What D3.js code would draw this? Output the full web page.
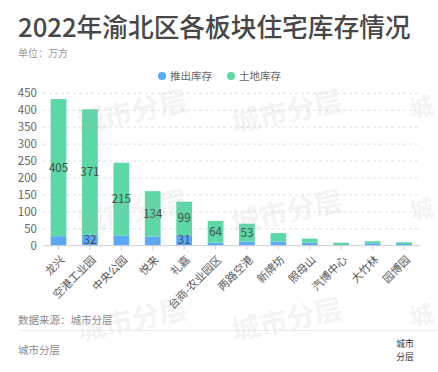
<!DOCTYPE html>
<html>
<head>
<meta charset="utf-8">
<script src="https://cdn.jsdelivr.net/npm/d3@7/dist/d3.min.js"></script>
<style>
html,body{margin:0;padding:0;background:#fff;}
svg{display:block;font-family:"Noto Sans CJK SC","Noto Sans",sans-serif;}
</style>
</head>
<body>
<svg id="chart" width="438" height="372"></svg>
<script>
const categories = ["龙兴","空港工业园","中央公园","悦来","礼嘉","台商-农业园区","两路空港","新牌坊","照母山","汽博中心","大竹林","园博园"];
const launched = [28, 32, 30, 27, 31, 9, 12, 12, 9, 1, 7, 5];      // 推出库存
const land =     [405, 371, 215, 134, 99, 64, 53, 25, 12, 8, 6, 5]; // 土地库存
const launchedLabels = [null, 32, null, null, 31, null, null, null, null, null, null, null];
const landLabels = [405, 371, 215, 134, 99, 64, 53, null, null, null, null, null];
const yTicks = [0, 50, 100, 150, 200, 250, 300, 350, 400, 450];
const seriesNames = ["推出库存", "土地库存"];
const colors = ["#5aa8f6", "#5cd8a6"];

const svg = d3.select("#chart");

// Title
svg.append("text").attr("x", 18).attr("y", 37)
  .attr("font-size", 25.7).attr("font-weight", 500).attr("fill", "#474747")
  .text("2022年渝北区各板块住宅库存情况");
svg.append("text").attr("x", 18).attr("y", 57)
  .attr("font-size", 10).attr("fill", "#9a9a9a").text("单位：万方");

// Legend
const legendX = [162, 231];
seriesNames.forEach((n, i) => {
  svg.append("circle").attr("cx", legendX[i]).attr("cy", 76).attr("r", 4).attr("fill", colors[i]);
  svg.append("text").attr("x", legendX[i] + 8).attr("y", 80)
    .attr("font-size", 10.5).attr("fill", "#666").text(n);
});

const x = d3.scaleBand().domain(categories).range([42.8, 419.7]).paddingInner(0.5).paddingOuter(0.25);
const y = d3.scaleLinear().domain([0, 450]).range([245.7, 93.3]);

// Grid
const g = svg.append("g");
g.selectAll("line.grid").data(yTicks.filter(d => d > 0)).enter().append("line")
  .attr("x1", 43).attr("x2", 420).attr("y1", d => y(d)).attr("y2", d => y(d))
  .attr("stroke", "#e2e2e2").attr("stroke-dasharray", "3,3").attr("stroke-width", 1);

// Y labels
g.selectAll("text.yl").data(yTicks).enter().append("text")
  .attr("x", 37).attr("y", d => y(d)).attr("dy", "0.35em").attr("text-anchor", "end")
  .attr("font-size", 11.5).attr("fill", "#666").text(d => d);

// Bars
const bars = g.append("g");
categories.forEach((c, i) => {
  const x0 = x(c), w = x.bandwidth();
  bars.append("rect").attr("x", x0).attr("width", w)
    .attr("y", y(launched[i])).attr("height", y(0) - y(launched[i])).attr("fill", colors[0]);
  bars.append("rect").attr("x", x0).attr("width", w)
    .attr("y", y(launched[i] + land[i])).attr("height", y(launched[i]) - y(launched[i] + land[i])).attr("fill", colors[1]);
  if (landLabels[i] != null) {
    bars.append("text").attr("x", x0 + w / 2).attr("y", y(launched[i] + land[i] / 2)).attr("dy", "0.35em")
      .attr("text-anchor", "middle").attr("font-size", 11.5).attr("fill", "#3f4a45").text(landLabels[i]);
  }
  if (launchedLabels[i] != null) {
    bars.append("text").attr("x", x0 + w / 2).attr("y", y(launched[i] / 2)).attr("dy", "0.35em")
      .attr("text-anchor", "middle").attr("font-size", 11.5).attr("fill", "#3f4a55").text(launchedLabels[i]);
  }
});

// Axis baseline
g.append("line").attr("x1", 43).attr("x2", 420).attr("y1", y(0)).attr("y2", y(0))
  .attr("stroke", "#cfcfcf").attr("stroke-width", 1);
g.selectAll("line.tick").data(categories).enter().append("line")
  .attr("x1", d => x(d) + x.bandwidth() / 2).attr("x2", d => x(d) + x.bandwidth() / 2)
  .attr("y1", y(0)).attr("y2", y(0) + 4).attr("stroke", "#cfcfcf");

// X labels
g.selectAll("text.xl").data(categories).enter().append("text")
  .attr("transform", d => `translate(${x(d) + x.bandwidth() / 2 + 4},${y(0) + 12}) rotate(-45)`)
  .attr("text-anchor", "end").attr("dy", "0.35em")
  .attr("font-size", 11).attr("fill", "#595959").text(d => d);

// Footer
svg.append("text").attr("x", 18).attr("y", 324).attr("font-size", 10.5).attr("fill", "#8a8a8a").text("数据来源：城市分层");
svg.append("line").attr("x1", 18).attr("x2", 438).attr("y1", 330.5).attr("y2", 330.5).attr("stroke", "#ececec");
svg.append("text").attr("x", 18).attr("y", 354).attr("font-size", 10.5).attr("fill", "#8a8a8a").text("城市分层");
svg.append("text").attr("x", 405).attr("y", 347).attr("text-anchor", "middle").attr("font-size", 8.8).attr("fill", "#333").text("城市");
svg.append("text").attr("x", 405).attr("y", 360).attr("text-anchor", "middle").attr("font-size", 8.8).attr("fill", "#333").text("分层");

// Watermarks (overlay, faint)
const wm = [[132,112],[287,112],[132,212],[287,212],[132,320],[287,320]];
wm.forEach(([cx, cy]) => {
  svg.append("text").attr("transform", `translate(${cx},${cy}) rotate(-12)`)
    .attr("text-anchor", "middle").attr("dy", "0.35em")
    .attr("font-size", 28).attr("font-weight", 700)
    .attr("fill", "rgba(180,180,180,0.16)").text("城市分层");
});
// partial watermark at the right edge (first glyph)
[110, 212, 318].forEach(cy => {
  svg.append("text").attr("transform", `translate(410,${cy}) rotate(-12)`)
    .attr("dy", "0.35em").attr("font-size", 24).attr("font-weight", 700)
    .attr("fill", "rgba(180,180,180,0.16)").text("城");
});
</script>
</body>
</html>
